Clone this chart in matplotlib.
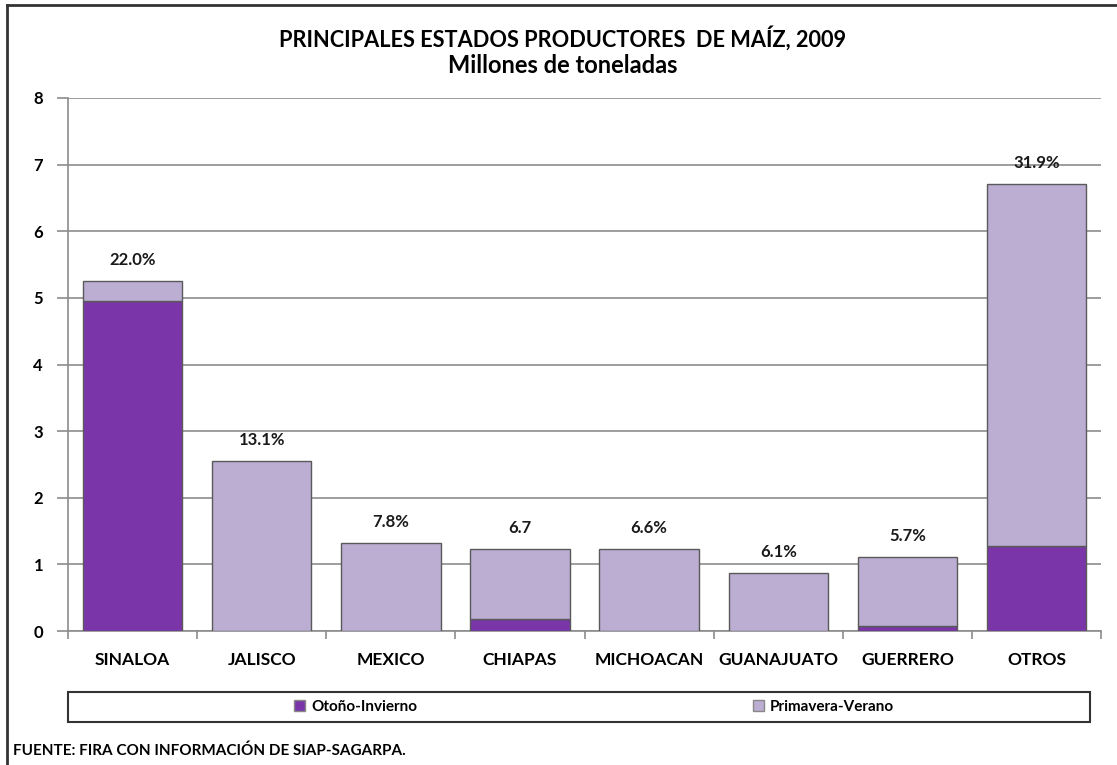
import numpy as np
import matplotlib.pyplot as plt
from matplotlib.lines import Line2D
from matplotlib.patches import Rectangle

plt.rcParams['font.family'] = ['Lato', 'DejaVu Sans']

estados = ['SINALOA', 'JALISCO', 'MEXICO', 'CHIAPAS', 'MICHOACAN', 'GUANAJUATO', 'GUERRERO', 'OTROS']
otono_invierno = [4.95, 0.0, 0.0, 0.18, 0.0, 0.0, 0.08, 1.28]
primavera_verano = [0.30, 2.55, 1.32, 1.05, 1.23, 0.87, 1.03, 5.43]
etiquetas = ['22.0%', '13.1%', '7.8%', '6.7', '6.6%', '6.1%', '5.7%', '31.9%']

c_oi = '#7a35a8'
c_pv = '#bcadd3'

fig = plt.figure(figsize=(11.17, 7.65), dpi=100)
ax = fig.add_axes([0.0609, 0.175, 0.9248, 0.697])

x = np.arange(len(estados))
ax.bar(x, otono_invierno, width=0.77, color=c_oi, edgecolor='#5a5a5a', linewidth=1, zorder=3)
ax.bar(x, primavera_verano, width=0.77, bottom=otono_invierno, color=c_pv,
       edgecolor='#5a5a5a', linewidth=1, zorder=3)

totales = np.array(otono_invierno) + np.array(primavera_verano)
for xi, t, lab in zip(x, totales, etiquetas):
    ax.text(xi, t + 0.2, lab, ha='center', va='bottom', fontsize=12, fontweight='bold', color='#1a1a1a')

ax.set_xlim(-0.5, len(estados) - 0.5)
ax.set_ylim(0, 8)
ax.set_yticks(range(0, 9))
ax.yaxis.grid(True, color='#8c8c8c', linewidth=1.2, zorder=0)
ax.set_axisbelow(True)
for s in ['top', 'right']:
    ax.spines[s].set_visible(False)
for s in ['left', 'bottom']:
    ax.spines[s].set_color('#8c8c8c')
    ax.spines[s].set_linewidth(1.2)

ax.set_xticks(x)
ax.set_xticklabels(estados, fontsize=12.5, fontweight='bold')
ax.set_xticks(np.arange(-0.5, len(estados)), minor=True)
ax.tick_params(axis='x', which='major', length=0, pad=15)
ax.tick_params(axis='x', which='minor', length=6, color='#8c8c8c', width=1.2)
ax.tick_params(axis='y', length=8, color='#8c8c8c', width=1.2, labelsize=12, pad=10)
for t in ax.get_yticklabels():
    t.set_fontweight('bold')

fig.text(0.504, 0.950, 'PRINCIPALES ESTADOS PRODUCTORES  DE MAÍZ, 2009', ha='center', va='center',
         fontsize=15.7, fontweight='bold')
fig.text(0.504, 0.914, 'Millones de toneladas', ha='center', va='center', fontsize=17, fontweight='bold')

# legend box
fig.patches.append(Rectangle((0.061, 0.056), 0.915, 0.040, transform=fig.transFigure,
                             fill=False, edgecolor='#333333', linewidth=1.5))
h1 = Rectangle((0, 0), 1, 1, facecolor=c_oi, edgecolor='#888888')
h2 = Rectangle((0, 0), 1, 1, facecolor=c_pv, edgecolor='#888888')
fig.legend([h1, h2], ['Otoño-Invierno', 'Primavera-Verano'], loc='center',
           bbox_to_anchor=(0.532, 0.076), ncol=2, frameon=False,
           handlelength=0.7, handleheight=0.7, handletextpad=0.4, columnspacing=22,
           prop={'weight': 'bold', 'size': 11})

fig.text(0.012, 0.018, 'FUENTE: FIRA CON INFORMACIÓN DE SIAP-SAGARPA.', ha='left', va='center',
         fontsize=11, fontweight='bold')

# outer frame
fig.add_artist(Line2D([0.0063, 1.0], [0.9935, 0.9935], transform=fig.transFigure, color='#333333', linewidth=2))
fig.add_artist(Line2D([0.0063, 0.0063], [0.0, 0.9935], transform=fig.transFigure, color='#333333', linewidth=2))

fig.savefig('out.png', dpi=100)
